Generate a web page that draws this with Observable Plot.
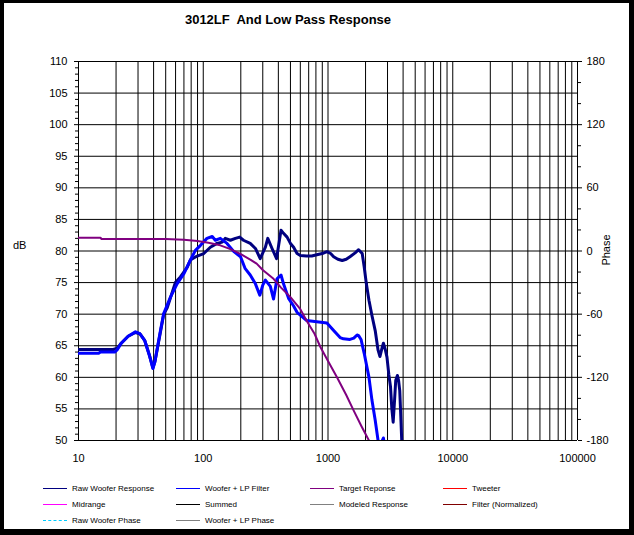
<!DOCTYPE html>
<html>
<head>
<meta charset="utf-8">
<script src="https://cdn.jsdelivr.net/npm/d3@7"></script>
<script src="https://cdn.jsdelivr.net/npm/@observablehq/plot@0.6"></script>
<style>
  html, body { margin: 0; padding: 0; background: #fff; }
  #wrap { position: relative; width: 634px; height: 535px; overflow: hidden; font-family: "Liberation Sans", Arial, sans-serif; }
  #frame { position: absolute; left: 0; top: 0; width: 634px; height: 535px; box-sizing: border-box;
           border-style: solid; border-color: #000; border-width: 3px 5px 6px 4px; pointer-events: none; z-index: 5; }
  #title { position: absolute; left: 0; width: 576px; top: 12px; text-align: center; font-weight: bold; font-size: 13px; white-space: pre; }
  #chart { position: absolute; left: 0; top: 0; }
  .lab { position: absolute; font-size: 11px; color: #000; }
  .leg { position: absolute; font-size: 8px; white-space: nowrap; display: flex; align-items: center; }
  .leg span.ln { display: inline-block; width: 24px; height: 0; margin-right: 5px; }
</style>
</head>
<body>
<div id="wrap">
  <div id="title"></div>
  <div id="chart"></div>
  <div class="lab" style="left:13px; top:239px;">dB</div>
  <div class="lab" style="left:590px; top:244px; transform: rotate(-90deg); transform-origin: center;">Phase</div>
  <div id="legend"></div>
  <div id="frame"></div>
</div>
<script>
const chartTitle = "3012LF  And Low Pass Response";

// Frequency (Hz), level (dB)
const rawWoofer = [
  [10, 64.4], [19, 64.4], [20.5, 64.6], [22, 65.4], [25, 66.5], [28.6, 67.1], [31, 66.9], [34, 65.8],
  [37, 63.5], [39.5, 61.5], [41, 62.5], [45.4, 67.2], [48.2, 70.0], [51.4, 71.0], [54.6, 72.6], [59.8, 75.0],
  [65.6, 75.9], [74.3, 77.4], [78.9, 78.6], [89.4, 79.2], [101, 79.6], [114, 80.6], [129, 81.2],
  [142, 81.4], [150, 82.0], [165, 81.7], [181, 82.0], [196, 82.2], [210, 81.7], [238, 81.2],
  [262, 80.4], [286, 78.8], [315, 80.6], [329, 82.0], [356, 80.4], [387, 78.8], [420, 83.3],
  [440, 82.8], [470, 82.2], [500, 81.2], [530, 80.6], [565, 79.6], [600, 79.3], [672, 79.2],
  [740, 79.2], [813, 79.4], [900, 79.6], [980, 79.9], [1050, 79.6], [1110, 79.1], [1200, 78.7],
  [1300, 78.5], [1400, 78.7], [1500, 79.1], [1650, 79.7], [1760, 80.2], [1880, 79.6], [1950, 77.5],
  [2030, 74.8], [2130, 72.2], [2250, 69.8], [2390, 67.4], [2520, 64.3], [2610, 63.3], [2700, 64.5],
  [2780, 65.4], [2870, 64.5], [2970, 63.2], [3070, 60.5], [3170, 58.5], [3250, 55.0], [3330, 52.9],
  [3420, 56.5], [3490, 59.5], [3600, 60.3], [3680, 59.5], [3760, 57.9], [3830, 54.0], [3900, 50.0], [3950, 47.0]
];

const wooferLP = [
  [10, 63.8], [14.5, 63.8], [15, 64.0], [19.5, 64.0], [20.5, 64.4], [22, 65.4], [25, 66.5], [28.6, 67.2],
  [31, 66.9], [34, 65.8], [37, 63.5], [39.5, 61.4], [41, 62.5], [45.4, 67.4], [48.2, 70.1], [54.6, 72.7],
  [61.7, 74.8], [69.9, 76.4], [79, 78.6], [86.5, 80.1], [95, 80.9], [107, 82.0], [118, 82.3], [125, 81.7],
  [137, 82.0], [155, 81.2], [176, 79.9], [199, 79.1], [217, 77.2], [238, 76.2], [262, 74.8], [284, 73.0],
  [300, 74.6], [315, 75.4], [345, 74.4], [366, 72.4], [390, 75.6], [420, 76.2], [440, 74.8], [483, 72.5],
  [530, 71.3], [565, 70.3], [672, 69.0], [813, 68.8], [980, 68.6], [1110, 67.4], [1250, 66.3], [1330, 66.1],
  [1500, 66.0], [1610, 66.2], [1710, 66.7], [1760, 66.6], [1840, 66.0], [1950, 63.8], [2130, 60.0],
  [2250, 56.4], [2390, 53.2], [2520, 50.0], [2600, 48.5], [2700, 49.8], [2780, 50.4], [2850, 49.0], [2900, 47.0]
];

const targetResponse = [
  [10, 82.1], [15, 82.1], [15.3, 81.9], [50, 81.9], [70, 81.8], [90, 81.6], [110, 81.3], [137, 80.9],
  [165, 80.3], [200, 79.5], [240, 78.6], [268, 78.0], [300, 77.0], [366, 75.6], [420, 74.2], [500, 72.7],
  [600, 70.8], [672, 69.0], [780, 66.9], [869, 64.8], [1000, 62.6], [1180, 60.0], [1400, 57.2],
  [1600, 54.8], [1850, 52.3], [2130, 50.0], [2300, 48.5]
];

const freqLabels = [10, 100, 1000, 10000, 100000];
const dbMajorTicks = [50, 55, 60, 65, 70, 75, 80, 85, 90, 95, 100, 105, 110];
const phaseTicks = [-180, -120, -60, 0, 60, 120, 180];
const phaseMinorTicks = [-160, -140, -100, -80, -40, -20, 20, 40, 80, 100, 140, 160];

const legendNames = ["Raw Woofer Response", "Woofer + LP Filter", "Target Reponse", "Tweeter",
  "Midrange", "Summed", "Modeled Response", "Filter (Normalized)",
  "Raw Woofer Phase", "Woofer + LP  Phase"];
const legendColors = ["#000080", "#0000ff", "#800080", "#ff0000",
  "#ff00ff", "#000000", "#808080", "#800000",
  "#00ccff", "#808080"];

// helpers (scale conversions)
const phaseToDb = p => 50 + (p + 180) / 6;
const dbToPhase = d => Math.round((d - 50) * 6 - 180);
const freqGrid = [];
for (let dec = 10; dec <= 10000; dec *= 10) for (let k = 1; k <= 9; k++) freqGrid.push(dec * k);
freqGrid.push(100000);
const dbMinor = d3.range(50, 111, 1).filter(d => d % 5 !== 0);

document.getElementById("title").textContent = chartTitle;

const pts = a => a.map(([f, db]) => ({f, db}));

const plot = Plot.plot({
  width: 634,
  height: 470,
  marginLeft: 78,
  marginRight: 57,
  marginTop: 61,
  marginBottom: 30,
  style: {fontFamily: "'Liberation Sans', Arial, sans-serif", fontSize: "11px", background: "transparent", color: "#000"},
  x: {type: "log", domain: [10, 100000]},
  y: {domain: [50, 110]},
  marks: [
    Plot.gridX({ticks: freqGrid, stroke: "#000", strokeOpacity: 1, strokeWidth: 1}),
    Plot.gridY({ticks: dbMajorTicks, stroke: "#000", strokeOpacity: 1, strokeWidth: 1}),
    Plot.axisX({ticks: freqLabels, tickFormat: d3.format("d"), tickSize: 0, tickPadding: 14, label: null}),
    Plot.axisY({ticks: dbMajorTicks, tickSize: 4, tickPadding: 7, label: null}),
    Plot.axisY({ticks: dbMinor, tickSize: 3, tickFormat: () => "", label: null}),
    Plot.axisY({anchor: "right", ticks: phaseTicks.map(phaseToDb), tickFormat: d => String(dbToPhase(d)), tickSize: 4, tickPadding: 5, label: null}),
    Plot.axisY({anchor: "right", ticks: phaseMinorTicks.map(phaseToDb), tickSize: 3, tickFormat: () => "", label: null}),
    Plot.ruleX([10, 100000], {stroke: "#000"}),
    Plot.ruleY([50, 110], {stroke: "#000"}),
    Plot.line(pts(rawWoofer), {x: "f", y: "db", stroke: "#000080", strokeWidth: 3, clip: true}),
    Plot.line(pts(wooferLP), {x: "f", y: "db", stroke: "#0000ff", strokeWidth: 3, clip: true}),
    Plot.line(pts(targetResponse), {x: "f", y: "db", stroke: "#800080", strokeWidth: 2, clip: true})
  ]
});
document.getElementById("chart").appendChild(plot);

// legend
const legCols = [43, 176, 310, 443];
const legRows = [488, 504, 520];
const legend = document.getElementById("legend");
legendNames.forEach((name, i) => {
  const div = document.createElement("div");
  div.className = "leg";
  div.style.left = legCols[i % 4] + "px";
  div.style.top = (legRows[Math.floor(i / 4)] - 5) + "px";
  div.style.height = "10px";
  const ln = document.createElement("span");
  ln.className = "ln";
  ln.style.borderTop = (name === "Raw Woofer Phase" ? "1.5px dashed " : "1.5px solid ") + legendColors[i];
  div.appendChild(ln);
  const t = document.createElement("span");
  t.textContent = name;
  div.appendChild(t);
  legend.appendChild(div);
});
</script>
</body>
</html>
